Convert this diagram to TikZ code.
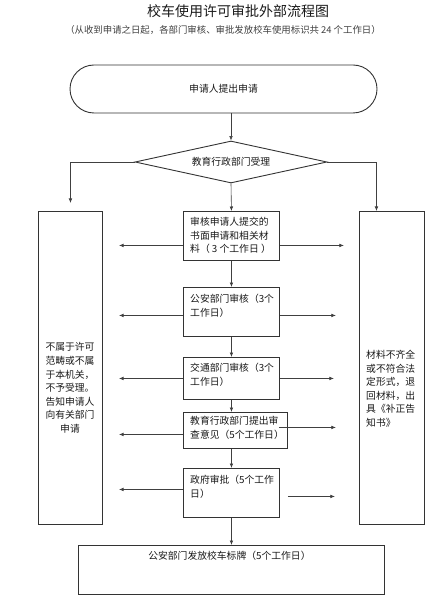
\documentclass[tikz,border=0pt]{standalone}
\usepackage{fontspec}
\setmainfont{Noto Sans CJK SC}
\usetikzlibrary{arrows.meta,shapes.geometric,shapes.misc}

\begin{document}
\begin{tikzpicture}[x=1pt, y=-1pt,
    every node/.style={inner sep=0pt, text=black!90, font=\fontsize{9.8}{13.6}\selectfont},
    box/.style={draw=black!80, line width=0.9pt, anchor=north west},
    lbl/.style={anchor=north west, align=left},
    arr/.style={draw=black!75, line width=0.6pt, -{Latex[length=4.5pt, width=3.6pt]}}
  ]
  \useasboundingbox (0,0) rectangle (441,609);

  % headings
  \node[font=\fontsize{14}{16}\selectfont] (title) at (238,11) {校车使用许可审批外部流程图};
  \node[font=\fontsize{9.4}{11}\selectfont, text=black!75] (note) at (223,30) {（从收到申请之日起，各部门审核、审批发放校车使用标识共 24 个工作日）};

  % start and acceptance
  \node[draw=black!80, line width=0.9pt, rounded rectangle, minimum width=307pt, minimum height=48pt] (apply) at (223.5,89) {申请人提出申请};
  \node[draw=black!80, line width=0.9pt, diamond, shape aspect=4.5, minimum width=192pt, minimum height=42pt] (accept) at (231,162) {教育行政部门受理};

  % side boxes
  \node[box, minimum width=64pt, minimum height=313pt] (refuse) at (38,211) {};
  \node[align=center] (refuse-t) at (70,388) {不属于许可\\范畴或不属\\于本机关，\\不予受理。\\告知申请人\\向有关部门\\申请};
  \node[box, minimum width=65pt, minimum height=313pt] (return) at (359,211) {};
  \node[lbl] (return-t) at (366,350) {材料不齐全\\或不符合法\\定形式，退\\回材料，出\\具《补正告\\知书》};

  % steps
  \node[box, minimum width=96pt, minimum height=49pt] (review) at (183,211) {};
  \node[lbl] (review-t) at ([xshift=7pt,yshift=-6pt]review.north west) {审核申请人提交的\\书面申请和相关材\\料（ 3 个工作日 ）};
  \node[box, minimum width=96pt, minimum height=49pt] (police) at (183,287) {};
  \node[lbl] (police-t) at ([xshift=7pt,yshift=-7pt]police.north west) {公安部门审核（3个\\工作日）};
  \node[box, minimum width=96pt, minimum height=42pt] (traffic) at (183,357) {};
  \node[lbl] (traffic-t) at ([xshift=7pt,yshift=-6pt]traffic.north west) {交通部门审核（3个\\工作日）};
  \node[box, minimum width=104pt, minimum height=36pt] (opinion) at (183,412) {};
  \node[lbl] (opinion-t) at ([xshift=7pt,yshift=-4pt]opinion.north west) {教育行政部门提出审\\查意见（5个工作日）};
  \node[box, minimum width=96pt, minimum height=49pt] (govt) at (183,468) {};
  \node[lbl] (govt-t) at ([xshift=7pt,yshift=-7pt]govt.north west) {政府审批（5个工作\\日）};
  \node[box, minimum width=306pt, minimum height=49pt] (issue) at (78,545) {};
  \node[anchor=north] (issue-t) at ([xshift=-2pt,yshift=-6pt]issue.north) {公安部门发放校车标牌（5个工作日）};

  % main line
  \draw[arr] (apply.south -| accept.north) -- (accept.north);
  \draw[arr] (accept.west) -| ([yshift=8pt]refuse.north);
  \draw[arr] (accept.east) -| ([xshift=-15.5pt]return.north);
  \draw[arr] (accept.south) -- (review.north);
  \draw[arr] (review.south) -- (police.north);
  \draw[arr] (police.south) -- (traffic.north);
  \draw[arr] (traffic.south) -- (traffic.south |- opinion.north);
  \draw[arr] (opinion.south -| govt.north) -- (govt.north);
  \draw[arr] (govt.south) -- (issue.north);

  % side arrows
  \draw[arr] ([yshift=-9.5pt]review.west) -- +(-64,0);
  \draw[arr] ([yshift=-9.5pt]review.east) -- +(64,0);
  \draw[arr] ([yshift=-3.5pt]police.west) -- +(-64,0);
  \draw[arr] ([yshift=-3.5pt]police.east) -- +(56,0);
  \draw[arr] (traffic.west) -- +(-64,0);
  \draw[arr] (traffic.east) -- +(54,0);
  \draw[arr] ([yshift=-4pt]opinion.west) -- +(-64,0);
  \draw[arr] ([xshift=-9pt,yshift=3pt]opinion.east) -- +(57,0);
  \draw[arr] ([yshift=3.5pt]govt.west) -- +(-64,0);
  \draw[arr] ([xshift=8pt,yshift=-3.5pt]govt.east) -- +(47,0);
\end{tikzpicture}
\end{document}
